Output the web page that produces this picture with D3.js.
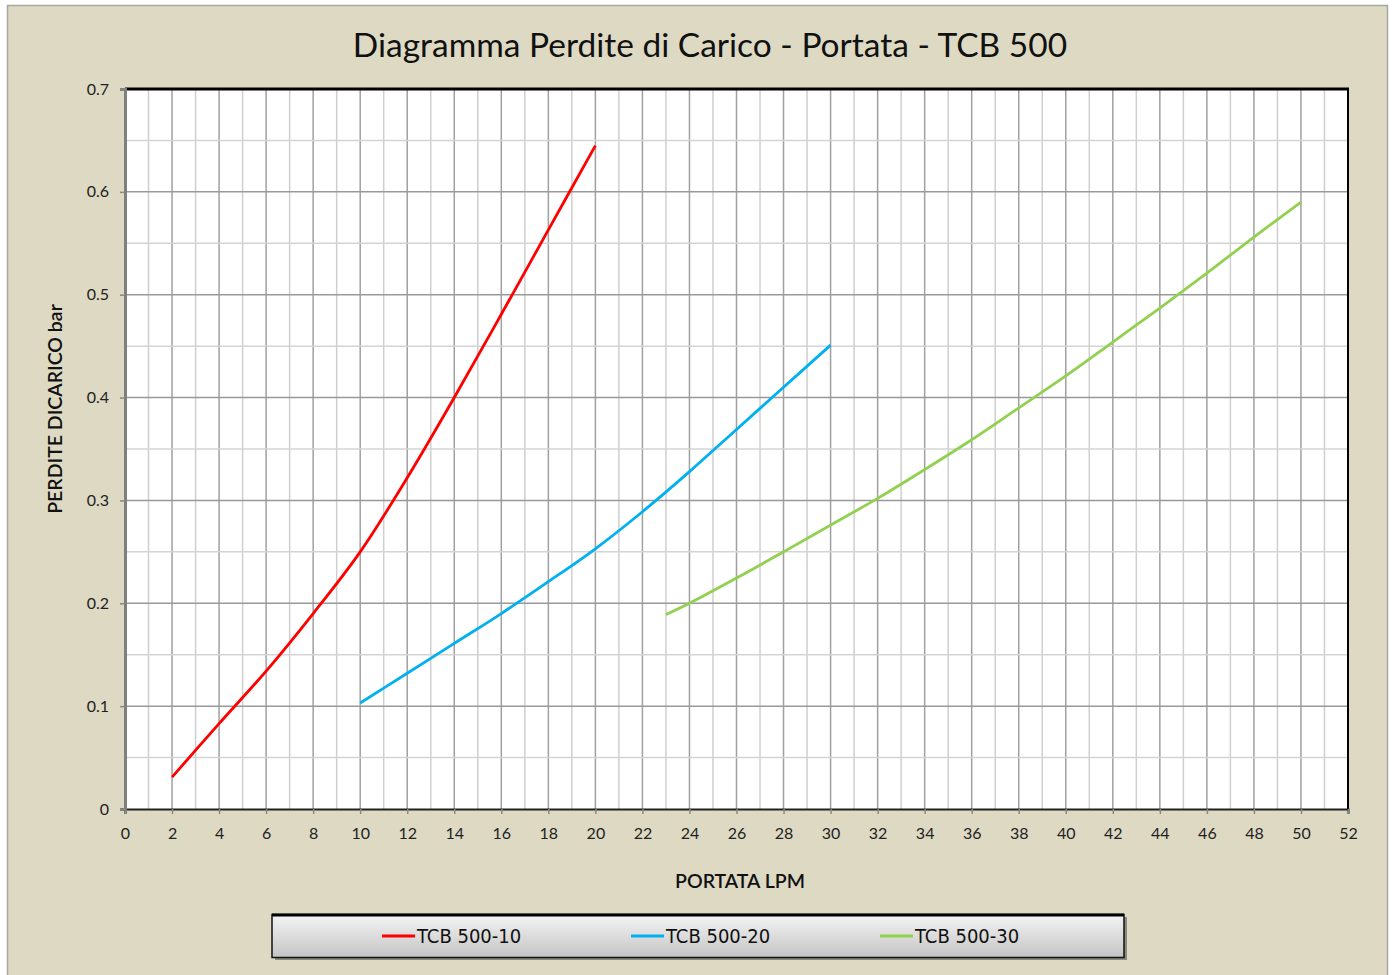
<!DOCTYPE html>
<html>
<head>
<meta charset="utf-8">
<script src="https://cdn.jsdelivr.net/npm/d3@7"></script>
<style>
  body { margin: 0; background: #fff; }
  svg { display: block; }
</style>
</head>
<body>
<div id="chart"></div>
<script>
// values (portata LPM -> perdite bar)
const flow10 = [2, 4, 6, 8, 10, 12, 14, 16, 18, 20];
const loss10 = [0.031, 0.083, 0.134, 0.19, 0.25, 0.322, 0.40, 0.481, 0.563, 0.645];

const flow20 = [10, 12, 14, 16, 18, 20, 22, 24, 26, 28, 30];
const loss20 = [0.103, 0.132, 0.161, 0.19, 0.221, 0.253, 0.289, 0.328, 0.369, 0.41, 0.451];

const flow30 = [23, 24, 26, 28, 30, 32, 34, 36, 38, 40, 42, 44, 46, 48, 50];
const loss30 = [0.189, 0.2, 0.2245, 0.25, 0.276, 0.302, 0.33, 0.359, 0.39, 0.421, 0.454, 0.487, 0.521, 0.556, 0.59];

const seriesNames = ["TCB 500-10", "TCB 500-20", "TCB 500-30"];
const seriesColors = ["#ff0000", "#00b0f0", "#92d050"];

const xTicks = d3.range(0, 53, 2);
const yTicks = [0, 0.1, 0.2, 0.3, 0.4, 0.5, 0.6, 0.7];

const title = "Diagramma Perdite di Carico - Portata - TCB 500";
const xTitle = "PORTATA LPM";
const yTitle = "PERDITE DICARICO bar";

const series = [
  {name: seriesNames[0], color: seriesColors[0], pts: flow10.map((x, i) => [x, loss10[i]])},
  {name: seriesNames[1], color: seriesColors[1], pts: flow20.map((x, i) => [x, loss20[i]])},
  {name: seriesNames[2], color: seriesColors[2], pts: flow30.map((x, i) => [x, loss30[i]])}
];

const width = 1393, height = 975;
const plot = {left: 125, top: 89, right: 1348, bottom: 809};

const svg = d3.select("#chart").append("svg")
  .attr("width", width)
  .attr("height", height);

// chart area background + border
svg.append("rect")
  .attr("x", 7.5).attr("y", 5.5)
  .attr("width", 1380).attr("height", 980)
  .attr("fill", "#ddd9c3")
  .attr("stroke", "#a6a6a6")
  .attr("stroke-width", 1.5);

svg.append("text")
  .attr("x", 710).attr("y", 57)
  .attr("text-anchor", "middle")
  .attr("font-family", "Lato, 'Open Sans', sans-serif")
  .attr("font-size", 33.5)
  .attr("fill", "#111")
  .text(title);

const x = d3.scaleLinear().domain([0, 52]).range([plot.left, plot.right]);
const y = d3.scaleLinear().domain([0, 0.7]).range([plot.bottom, plot.top]);

svg.append("rect")
  .attr("x", plot.left).attr("y", plot.top)
  .attr("width", plot.right - plot.left).attr("height", plot.bottom - plot.top)
  .attr("fill", "#fff");

// gridlines
const grid = svg.append("g");
d3.range(1, 52).forEach(v => {
  grid.append("line")
    .attr("x1", x(v)).attr("x2", x(v))
    .attr("y1", plot.top).attr("y2", plot.bottom)
    .attr("stroke", v % 2 === 0 ? "#a0a0a0" : "#cfcfcf")
    .attr("stroke-width", 1.5);
});
d3.range(1, 14).forEach(k => {
  const v = k * 0.05;
  grid.append("line")
    .attr("x1", plot.left).attr("x2", plot.right)
    .attr("y1", y(v)).attr("y2", y(v))
    .attr("stroke", k % 2 === 0 ? "#999" : "#d4d4d4")
    .attr("stroke-width", 1.5);
});

// frame: top and right black
svg.append("line")
  .attr("x1", plot.left).attr("x2", plot.right + 1)
  .attr("y1", plot.top).attr("y2", plot.top)
  .attr("stroke", "#000").attr("stroke-width", 3);
svg.append("line")
  .attr("x1", plot.right).attr("x2", plot.right)
  .attr("y1", plot.top).attr("y2", plot.bottom)
  .attr("stroke", "#000").attr("stroke-width", 2);

// axes
const xAxis = svg.append("g")
  .attr("transform", `translate(0,${plot.bottom})`)
  .call(d3.axisBottom(x).tickValues(xTicks).tickSize(5).tickPadding(14).tickFormat(d3.format("d")));
xAxis.select(".domain").attr("stroke", "#222").attr("stroke-width", 2);
xAxis.selectAll(".tick line").attr("stroke", "#888").attr("stroke-width", 1.5);
xAxis.selectAll("text")
  .attr("font-family", "Lato, 'Open Sans', sans-serif")
  .attr("font-size", 16).attr("fill", "#222");

const yAxis = svg.append("g")
  .attr("transform", `translate(${plot.left},0)`)
  .call(d3.axisLeft(y).tickValues(yTicks).tickSize(5).tickPadding(11)
    .tickFormat(d => d === 0 ? "0" : d3.format(".1f")(d)));
yAxis.select(".domain").attr("stroke", "#7f7f7f").attr("stroke-width", 3);
yAxis.selectAll(".tick line").attr("stroke", "#888").attr("stroke-width", 1.5);
yAxis.selectAll("text")
  .attr("font-family", "Lato, 'Open Sans', sans-serif")
  .attr("font-size", 16).attr("fill", "#222");

// series
const line = d3.line()
  .x(d => x(d[0]))
  .y(d => y(d[1]))
  .curve(d3.curveCatmullRom.alpha(0.5));

svg.append("g").selectAll("path")
  .data(series)
  .enter()
  .append("path")
  .attr("d", d => line(d.pts))
  .attr("fill", "none")
  .attr("stroke", d => d.color)
  .attr("stroke-width", 2.8)
  .attr("stroke-linejoin", "round");

// axis titles
svg.append("text")
  .attr("x", 740).attr("y", 888)
  .attr("text-anchor", "middle")
  .attr("font-family", "Lato, 'Open Sans', sans-serif")
  .attr("font-size", 19.5).attr("font-weight", 600)
  .attr("fill", "#111")
  .text(xTitle);

svg.append("text")
  .attr("transform", "translate(62,409) rotate(-90)")
  .attr("text-anchor", "middle")
  .attr("font-family", "Lato, 'Open Sans', sans-serif")
  .attr("font-size", 19.5).attr("font-weight", 600)
  .attr("fill", "#111")
  .text(yTitle);

// legend
const defs = svg.append("defs");
const grad = defs.append("linearGradient")
  .attr("id", "legGrad").attr("x1", 0).attr("x2", 0).attr("y1", 0).attr("y2", 1);
grad.append("stop").attr("offset", "0%").attr("stop-color", "#f4f4f4");
grad.append("stop").attr("offset", "100%").attr("stop-color", "#c4c4c4");

svg.append("rect")
  .attr("x", 275).attr("y", 917)
  .attr("width", 852).attr("height", 43)
  .attr("fill", "#555").attr("opacity", 0.6);
svg.append("rect")
  .attr("x", 272).attr("y", 914.5)
  .attr("width", 852).attr("height", 43)
  .attr("fill", "url(#legGrad)")
  .attr("stroke", "#111").attr("stroke-width", 1.5);
svg.append("line")
  .attr("x1", 272).attr("x2", 1124)
  .attr("y1", 915).attr("y2", 915)
  .attr("stroke", "#000").attr("stroke-width", 3);

const legend = svg.selectAll(".legend")
  .data(series)
  .enter()
  .append("g")
  .attr("class", "legend")
  .attr("transform", (d, i) => `translate(${382 + i * 249}, 936)`);

legend.append("line")
  .attr("x1", 0).attr("x2", 33)
  .attr("stroke", d => d.color)
  .attr("stroke-width", 3);

legend.append("text")
  .attr("x", 35).attr("y", 7)
  .attr("font-family", "'Liberation Sans Narrow', 'DejaVu Sans Condensed', sans-serif")
  .attr("font-size", 20)
  .attr("fill", "#111")
  .text(d => d.name);
</script>
</body>
</html>
